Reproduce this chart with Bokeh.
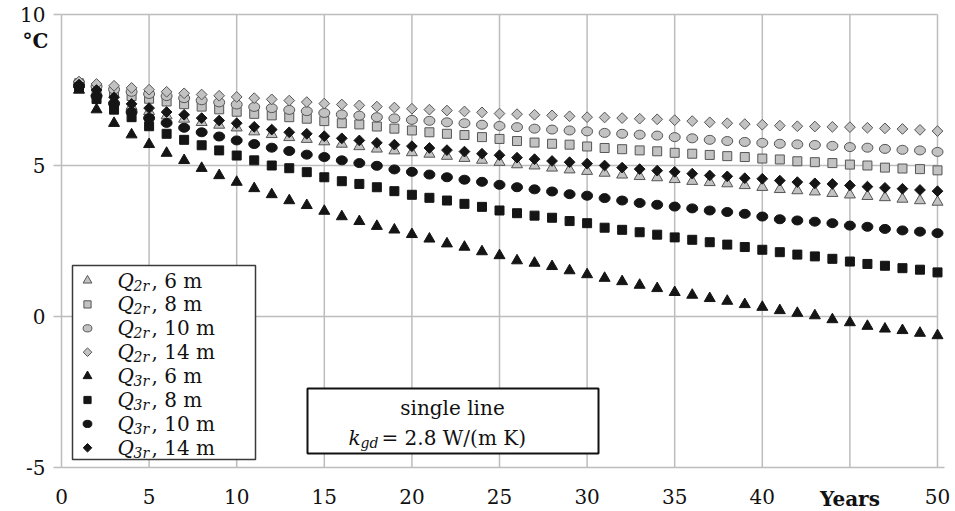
from math import pi

from bokeh.embed import file_html
from bokeh.models import FixedTicker, Label, LinearAxis, Range1d
from bokeh.plotting import figure
from bokeh.resources import INLINE

# ---------------------------------------------------------------- data
years = list(range(1, 51))

q2r_6m = [7.68, 7.42, 7.18, 6.96, 6.79, 6.65, 6.54, 6.43, 6.34, 6.25,
          6.12, 6.03, 5.93, 5.87, 5.79, 5.71, 5.63, 5.55, 5.49, 5.43,
          5.38, 5.31, 5.24, 5.18, 5.11, 5.03, 4.99, 4.92, 4.86, 4.81,
          4.75, 4.69, 4.64, 4.60, 4.54, 4.48, 4.44, 4.40, 4.34, 4.28,
          4.21, 4.17, 4.13, 4.08, 4.03, 3.98, 3.94, 3.89, 3.84, 3.79]

q2r_8m = [7.72, 7.55, 7.42, 7.30, 7.21, 7.12, 7.03, 6.95, 6.86, 6.78,
          6.71, 6.66, 6.60, 6.55, 6.47, 6.40, 6.36, 6.29, 6.22, 6.16,
          6.10, 6.05, 6.01, 5.94, 5.88, 5.81, 5.76, 5.72, 5.69, 5.63,
          5.58, 5.54, 5.50, 5.47, 5.42, 5.39, 5.35, 5.31, 5.28, 5.23,
          5.20, 5.14, 5.11, 5.08, 5.03, 5.00, 4.93, 4.90, 4.88, 4.84]

q2r_10m = [7.75, 7.62, 7.52, 7.44, 7.37, 7.30, 7.23, 7.16, 7.09, 7.02,
           6.94, 6.90, 6.84, 6.80, 6.74, 6.69, 6.65, 6.60, 6.56, 6.51,
           6.48, 6.43, 6.40, 6.35, 6.31, 6.27, 6.22, 6.19, 6.16, 6.13,
           6.08, 6.05, 6.02, 5.99, 5.94, 5.90, 5.85, 5.81, 5.78, 5.75,
           5.72, 5.70, 5.68, 5.65, 5.61, 5.59, 5.55, 5.52, 5.50, 5.45]

q2r_14m = [7.78, 7.70, 7.64, 7.57, 7.51, 7.44, 7.39, 7.35, 7.31, 7.27,
           7.23, 7.19, 7.15, 7.10, 7.05, 7.02, 6.99, 6.95, 6.92, 6.88,
           6.85, 6.82, 6.79, 6.76, 6.72, 6.70, 6.68, 6.66, 6.63, 6.60,
           6.59, 6.57, 6.55, 6.53, 6.50, 6.47, 6.43, 6.40, 6.37, 6.35,
           6.32, 6.30, 6.29, 6.28, 6.27, 6.25, 6.23, 6.21, 6.18, 6.14]

q3r_6m = [7.50, 6.85, 6.40, 6.02, 5.70, 5.41, 5.17, 4.91, 4.67, 4.45,
          4.24, 4.04, 3.84, 3.68, 3.49, 3.31, 3.15, 2.99, 2.87, 2.72,
          2.57, 2.41, 2.30, 2.15, 2.02, 1.85, 1.77, 1.66, 1.52, 1.39,
          1.27, 1.16, 1.04, 0.93, 0.80, 0.71, 0.60, 0.51, 0.40, 0.31,
          0.20, 0.11, 0.03, -0.10, -0.20, -0.32, -0.41, -0.46, -0.55, -0.63]

q3r_8m = [7.58, 7.20, 6.85, 6.60, 6.30, 6.05, 5.85, 5.67, 5.50, 5.33,
          5.17, 5.00, 4.91, 4.78, 4.61, 4.48, 4.39, 4.28, 4.15, 4.03,
          3.93, 3.84, 3.73, 3.63, 3.51, 3.42, 3.34, 3.27, 3.16, 3.09,
          2.94, 2.87, 2.79, 2.71, 2.62, 2.54, 2.46, 2.38, 2.30, 2.21,
          2.13, 2.05, 1.99, 1.91, 1.82, 1.74, 1.68, 1.60, 1.55, 1.46]

q3r_10m = [7.63, 7.30, 7.05, 6.77, 6.57, 6.41, 6.25, 6.10, 5.96, 5.83,
           5.71, 5.59, 5.48, 5.36, 5.28, 5.17, 5.08, 4.99, 4.87, 4.79,
           4.70, 4.61, 4.53, 4.46, 4.36, 4.28, 4.21, 4.14, 4.05, 4.00,
           3.92, 3.84, 3.76, 3.70, 3.64, 3.58, 3.51, 3.46, 3.40, 3.31,
           3.22, 3.18, 3.14, 3.09, 3.01, 2.97, 2.90, 2.85, 2.81, 2.76]

q3r_14m = [7.68, 7.50, 7.26, 7.04, 6.90, 6.77, 6.68, 6.57, 6.49, 6.40,
           6.28, 6.19, 6.10, 6.05, 5.97, 5.90, 5.83, 5.75, 5.69, 5.64,
           5.58, 5.51, 5.46, 5.39, 5.34, 5.26, 5.21, 5.15, 5.11, 5.06,
           5.00, 4.93, 4.88, 4.83, 4.79, 4.73, 4.67, 4.64, 4.58, 4.56,
           4.50, 4.45, 4.41, 4.39, 4.34, 4.30, 4.26, 4.23, 4.19, 4.15]

x_ticks = [0, 5, 10, 15, 20, 25, 30, 35, 40, 45, 50]
y_ticks = [-5, 0, 5, 10]
x_label_overrides = {45: ""}
y_label_overrides = {-5: "-5", 0: "0", 5: "5", 10: "10"}

legend_subscripts = ["2r", "2r", "2r", "2r", "3r", "3r", "3r", "3r"]
legend_tails = [", 6 m", ", 8 m", ", 10 m", ", 14 m",
                ", 6 m", ", 8 m", ", 10 m", ", 14 m"]

# ---------------------------------------------------------------- layout
FONT = "DejaVu Serif"
INK = "#111111"
GRID = "#bdbdbd"
GRAY_FILL, GRAY_LINE = "#c2c2c2", "#555555"
BLACK = "#151515"

CANVAS_W, CANVAS_H = 955, 511
X0_PX, Y10_PX = 61, 14          # page pixel of year 0 and of 10 °C
PX_PER_YEAR, PX_PER_DEG = 17.52, 30.2


def sx(px):
    """Horizontal page pixel -> years."""
    return (px - X0_PX) / PX_PER_YEAR


def sy(py):
    """Vertical page pixel -> degrees."""
    return 10 - (py - Y10_PX) / PX_PER_DEG


# the data frame fills the whole canvas; axes sit at fixed data locations
p = figure(frame_width=CANVAS_W, frame_height=CANVAS_H, min_border=0,
           x_axis_location=None, y_axis_location=None,
           x_range=Range1d(sx(0), sx(CANVAS_W)),
           y_range=Range1d(sy(CANVAS_H), sy(0)),
           output_backend="svg", toolbar_location=None)
p.outline_line_color = None
p.xgrid.visible = False
p.ygrid.visible = False

xaxis = LinearAxis(fixed_location=y_ticks[0], bounds=(x_ticks[0], sx(944)),
                   ticker=FixedTicker(ticks=x_ticks),
                   major_label_overrides=x_label_overrides)
yaxis = LinearAxis(fixed_location=x_ticks[0], bounds=(y_ticks[0], y_ticks[-1]),
                   ticker=FixedTicker(ticks=y_ticks),
                   major_label_overrides=y_label_overrides)
for ax in (xaxis, yaxis):
    ax.axis_line_color = GRID
    ax.axis_line_width = 1.5
    ax.minor_tick_line_color = None
    ax.major_label_text_font = FONT
    ax.major_label_text_font_size = "20px"
    ax.major_label_text_color = INK

xaxis.major_tick_line_color = None
xaxis.major_tick_out = 0
xaxis.major_tick_in = 0
xaxis.major_label_standoff = 21

yaxis.major_tick_line_color = GRID
yaxis.major_tick_line_width = 1.5
yaxis.major_tick_out = 8
yaxis.major_tick_in = 0
yaxis.major_label_standoff = 8

p.add_layout(xaxis, "below")
p.add_layout(yaxis, "left")

# grid lines, stopping at the last year
vx = x_ticks[1:]
p.segment(x0=vx, y0=[y_ticks[0]] * len(vx), x1=vx, y1=[y_ticks[-1]] * len(vx),
          line_color=GRID, line_width=1.5)
hy = y_ticks[1:]
p.segment(x0=[x_ticks[0]] * len(hy), y0=hy, x1=[x_ticks[-1]] * len(hy), y1=hy,
          line_color=GRID, line_width=1.5)


def draw_marker(xs, ys, shape, fill, line, scale=1.0):
    if shape == "triangle":
        p.scatter(xs, ys, marker="triangle", size=11 * scale,
                  fill_color=fill, line_color=line, line_width=1)
    elif shape == "square":
        p.scatter(xs, ys, marker="square", size=9 * scale,
                  fill_color=fill, line_color=line, line_width=1)
    elif shape == "circle":
        p.ellipse(xs, ys, width=11 * scale, height=9 * scale,
                  width_units="screen", height_units="screen",
                  fill_color=fill, line_color=line, line_width=1)
    elif shape == "diamond":
        p.scatter(xs, ys, marker="square", angle=pi / 4, size=7.6 * scale,
                  fill_color=fill, line_color=line, line_width=1)


series = [
    (q2r_6m, "triangle", GRAY_FILL, GRAY_LINE),
    (q2r_8m, "square", GRAY_FILL, GRAY_LINE),
    (q2r_10m, "circle", GRAY_FILL, GRAY_LINE),
    (q2r_14m, "diamond", GRAY_FILL, GRAY_LINE),
    (q3r_6m, "triangle", BLACK, BLACK),
    (q3r_8m, "square", BLACK, BLACK),
    (q3r_10m, "circle", BLACK, BLACK),
    (q3r_14m, "diamond", BLACK, BLACK),
]
for values, shape, fill, line in series:
    draw_marker(years, values, shape, fill, line)

# ---------------------------------------------------------------- legend
LEG_L, LEG_R, LEG_T, LEG_B = 72, 255, 265, 459
ROW0, ROW_STEP = 280, 23.9
p.quad(left=[sx(LEG_L)], right=[sx(LEG_R)], top=[sy(LEG_T)], bottom=[sy(LEG_B)],
       fill_color="white", line_color="#3a3a3a", line_width=1.5)

for i, (values, shape, fill, line) in enumerate(series):
    row = ROW0 + i * ROW_STEP
    draw_marker([sx(87)], [sy(row)], shape, fill, line, scale=0.8)
    p.add_layout(Label(x=sx(117), y=sy(row), text="Q", text_font=FONT,
                       text_font_style="italic", text_font_size="20px",
                       text_baseline="middle", text_color=INK))
    p.add_layout(Label(x=sx(133), y=sy(row + 5), text=legend_subscripts[i],
                       text_font=FONT, text_font_style="italic",
                       text_font_size="14px", text_baseline="middle",
                       text_color=INK))
    p.add_layout(Label(x=sx(151), y=sy(row), text=legend_tails[i],
                       text_font=FONT, text_font_size="20px",
                       text_baseline="middle", text_color=INK))

# ---------------------------------------------------------------- note box
p.quad(left=[sx(307)], right=[sx(598)], top=[sy(388)], bottom=[sy(453)],
       fill_color="white", line_color=INK, line_width=2)
p.add_layout(Label(x=sx(452), y=sy(407), text="single line", text_font=FONT,
                   text_font_size="20px", text_align="center",
                   text_baseline="middle", text_color=INK))
p.add_layout(Label(x=sx(348), y=sy(437), text="k", text_font=FONT,
                   text_font_style="italic", text_font_size="20px",
                   text_baseline="middle", text_color=INK))
p.add_layout(Label(x=sx(360), y=sy(442), text="gd", text_font=FONT,
                   text_font_style="italic", text_font_size="14px",
                   text_baseline="middle", text_color=INK))
p.add_layout(Label(x=sx(381), y=sy(437), text="= 2.8 W/(m K)", text_font=FONT,
                   text_font_size="20px", text_baseline="middle",
                   text_color=INK))

# ---------------------------------------------------------------- axis titles
p.add_layout(Label(x=sx(35), y=sy(40), text="°C", text_font=FONT,
                   text_font_style="bold", text_font_size="20px",
                   text_align="center", text_baseline="middle",
                   text_color=INK))
p.add_layout(Label(x=x_ticks[-2], y=sy(498), text="Years", text_font=FONT,
                   text_font_style="bold", text_font_size="20px",
                   text_align="center", text_baseline="middle",
                   text_color=INK))

open("out.html", "w").write(file_html(p, INLINE))
